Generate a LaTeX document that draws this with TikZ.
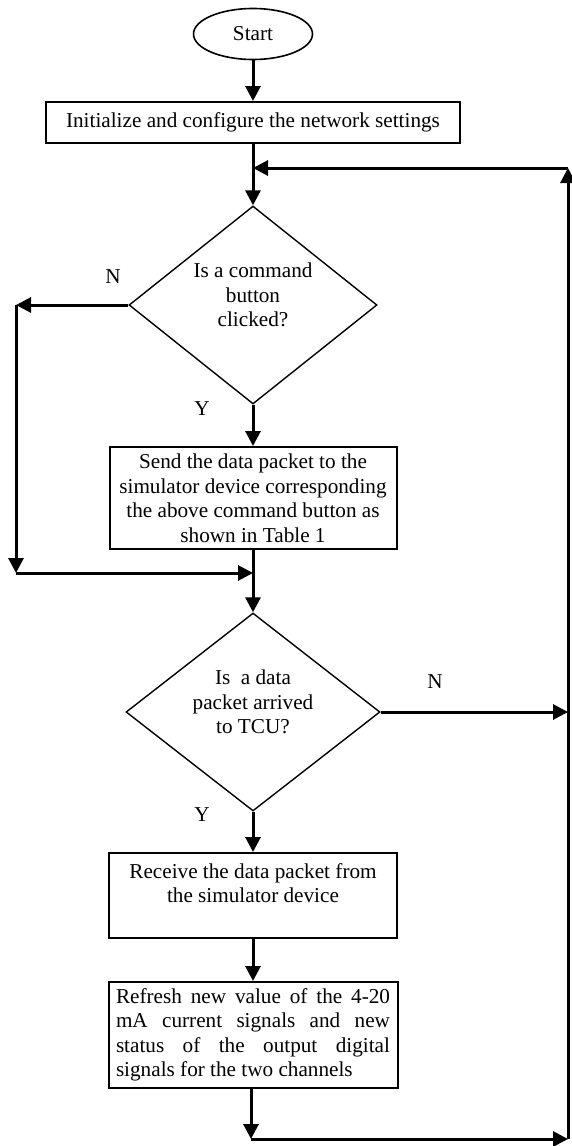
\documentclass[tikz,border=0pt]{standalone}
\usepackage{fontspec}
\setmainfont{Liberation Serif}
\usepackage{tikz}
\usetikzlibrary{shapes.geometric,arrows.meta}

\begin{document}
\begin{tikzpicture}[x=0.5pt, y=-0.5pt,
    every node/.style={font=\fontsize{10.6}{12.25}\selectfont},
    arr/.style={line width=1.5pt, -{Triangle[length=7.5pt,width=7.5pt]}},
    procbox/.style={draw, line width=1pt, rectangle, inner sep=0pt, align=center},
    decision/.style={draw, line width=0.7pt, diamond, inner sep=0pt},
    qtext/.style={align=center, inner sep=0pt}]
      \useasboundingbox (0, 0) rectangle (572, 1146);

      \node[draw, line width=0.8pt, ellipse, minimum width=59.5pt, minimum height=25.5pt, inner sep=0pt] (start) at (253, 34) {Start};
      \node[procbox, minimum width=207pt, minimum height=20.5pt] (init) at (253, 122.5) {Initialize and configure the network settings};

      \node[decision, minimum width=124pt, minimum height=99pt] (dec1) at (253, 305) {};
      \node[qtext] (dec1txt) at (253, 295) {Is a command\\button\\clicked?};

      \node[procbox, minimum width=143.5pt, minimum height=51pt] (send) at (253, 498)
        {Send the data packet to the\\simulator device corresponding\\the above command button as\\shown in Table 1};

      \node[decision, minimum width=127pt, minimum height=99pt] (dec2) at (253, 712) {};
      \node[qtext] (dec2txt) at (253, 702) {Is\ \ a data\\packet arrived\\to TCU?};

      \node[procbox, minimum width=144pt, minimum height=42.5pt] (recv) at (253, 895.5)
        {Receive the data packet from\\the simulator device\\ \mbox{}};
      \node[procbox, minimum width=144.5pt, minimum height=53pt, text width=137pt, align=justify] (refresh) at (253, 1035)
        {Refresh new value of the 4-20\linebreak mA current signals and new\linebreak status of the output digital\linebreak signals for the two channels};

      \node (n1) at (113, 277) {N};
      \node (y1) at (202, 409) {Y};
      \node (n2) at (435, 682) {N};
      \node (y2) at (202, 815) {Y};

      \coordinate (lt) at (16, 305);
      \coordinate (lb) at (16, 573);
      \coordinate (join) at (253, 573);
      \coordinate (rn) at (568, 712);
      \coordinate (bl) at (251, 1139);
      \coordinate (br) at (568, 1139);
      \coordinate (tr) at (568, 168);
      \coordinate (tl) at (253, 168);

      \draw[arr] (start) -- (init);
      \draw[arr] (init) -- (dec1);
      \draw[arr] (dec1) -- (send);
      \draw[arr] (dec1.west) -- (lt);
      \draw[arr] (lt) -- (lb);
      \draw[arr] (lb) -- (join);
      \draw[arr] (send) -- (dec2);
      \draw[arr] (dec2.east) -- (rn);
      \draw[arr] (dec2) -- (recv);
      \draw[arr] (recv) -- (refresh);
      \draw[arr] (refresh.south -| bl) -- (bl);
      \draw[arr] (bl) -- (br);
      \draw[arr] (br) -- (tr);
      \draw[arr] (tr) -- (tl);
    \end{tikzpicture}
\end{document}
